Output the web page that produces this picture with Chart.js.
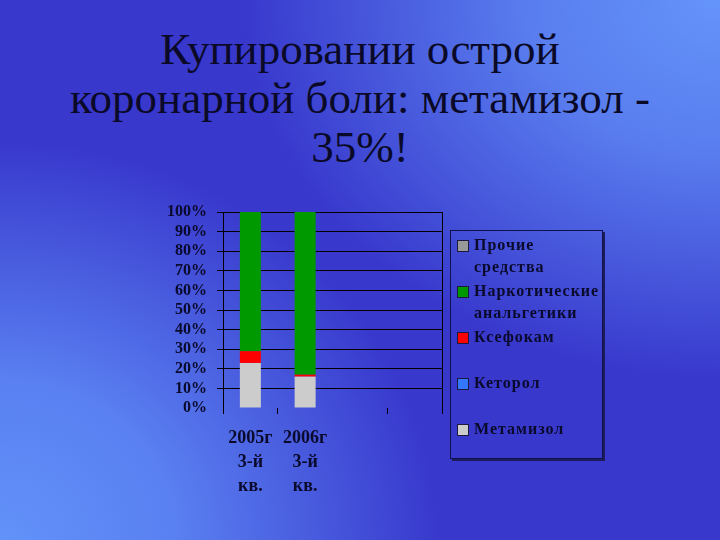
<!DOCTYPE html>
<html>
<head>
<meta charset="utf-8">
<script src="https://cdn.jsdelivr.net/npm/chart.js@4.4.0/dist/chart.umd.min.js"></script>
<style>
  html, body { margin: 0; padding: 0; }
  body {
    width: 720px; height: 540px; overflow: hidden; position: relative;
    background:
      radial-gradient(ellipse 480px 380px at 100% 0%, rgba(100,148,250,1) 0%, rgba(100,148,250,0.75) 40%, rgba(100,148,250,0) 100%),
      radial-gradient(ellipse 440px 400px at 0% 100%, rgba(98,146,250,1) 0%, rgba(98,146,250,0.8) 40%, rgba(98,146,250,0) 100%),
      #3838cc;
  }
  #title {
    position: absolute; left: 0; top: 25px; width: 720px; text-align: center;
    font-family: "Liberation Serif", "DejaVu Serif", serif; font-size: 45px; line-height: 49px;
    color: #0a0a28;
  }
  #c { position: absolute; left: 0; top: 0; }
  #legend {
    position: absolute; left: 450px; top: 230px; width: 153px; height: 229px;
    border: 1px solid #12124a; box-shadow: 2px 2px 0 #1c1c5c;
    box-sizing: border-box; padding-top: 3px;
    font-family: "Liberation Serif", serif; font-weight: bold; font-size: 16px;
    letter-spacing: 1px; color: #0a0a2c;
  }
  .item { position: relative; height: 46px; }
  .sw { position: absolute; left: 6px; top: 6px; width: 10px; height: 10px; border: 1px solid #1a1a40; }
  .txt { position: absolute; left: 23px; top: 0; line-height: 22px; width: 135px; }
</style>
</head>
<body>
<div id="title">Купировании острой<br>коронарной боли: метамизол -<br>35%!</div>
<canvas id="c" width="720" height="540"></canvas>
<div id="legend"></div>
<script>
const categories = [['2005г', '3-й', 'кв.'], ['2006г', '3-й', 'кв.'], '', ''];
const seriesNames = ['Метамизол', 'Кеторол', 'Ксефокам', 'Наркотические анальгетики', 'Прочие средства'];
const metamizol = [23, 16, null, null];
const ketorol = [0, 0, null, null];
const ksefokam = [6, 1, null, null];
const narcotic = [71, 83, null, null];
const other = [0, 0, null, null];
const seriesColors = ['#cccccc', '#3377ff', '#ff0000', '#009900', '#999999'];
const yTicks = [0, 10, 20, 30, 40, 50, 60, 70, 80, 90, 100];

const seriesValues = [metamizol, ketorol, ksefokam, narcotic, other];
const datasets = seriesNames.map((n, i) => ({
  label: n,
  data: seriesValues[i],
  backgroundColor: seriesColors[i],
  borderWidth: 0,
  categoryPercentage: 0.8,
  barPercentage: 0.48
}));

const ink = '#0a0a2c';
new Chart(document.getElementById('c'), {
  type: 'bar',
  data: { labels: categories, datasets },
  options: {
    responsive: false,
    animation: false,
    layout: { padding: { left: 150, right: 278, top: 212, bottom: 32 } },
    plugins: { legend: { display: false }, title: { display: false }, tooltip: { enabled: false } },
    scales: {
      x: {
        stacked: true,
        afterFit: s => { s.height = 100; },
        border: { display: false },
        grid: {
          offset: true,
          drawOnChartArea: true,
          color: ctx => (ctx.index === undefined || ctx.index === 0) ? '#000' : 'transparent',
          tickColor: ctx => (ctx.index === 1 || ctx.index === 3 || ctx.index === 0 || ctx.index === undefined) ? '#000' : 'transparent',
          tickLength: 6,
          lineWidth: 1
        },
        ticks: {
          color: ink, padding: 12, maxRotation: 0, autoSkip: false,
          font: { family: 'Liberation Serif', weight: 'bold', size: 18, lineHeight: 1.33 }
        }
      },
      y: {
        stacked: true,
        min: 0, max: 100,
        afterFit: s => { s.width = 73; },
        afterBuildTicks: s => { s.ticks = yTicks.map(v => ({ value: v })); },
        border: { display: true, color: '#000', width: 1 },
        grid: {
          color: ctx => (ctx.tick && ctx.tick.value === 0) ? 'transparent' : '#000',
          tickLength: 6,
          lineWidth: 1
        },
        ticks: {
          color: ink, padding: 10, autoSkip: false, stepSize: 10,
          callback: v => v + '%',
          font: { family: 'Liberation Serif', weight: 'bold', size: 16 }
        }
      }
    }
  }
});

const legend = document.getElementById('legend');
for (let i = seriesNames.length - 1; i >= 0; i--) {
  const it = document.createElement('div');
  it.className = 'item';
  const sw = document.createElement('div');
  sw.className = 'sw';
  sw.style.background = seriesColors[i];
  const t = document.createElement('div');
  t.className = 'txt';
  t.innerHTML = seriesNames[i].replace(' ', '<br>');
  it.appendChild(sw); it.appendChild(t);
  legend.appendChild(it);
}
</script>
</body>
</html>
